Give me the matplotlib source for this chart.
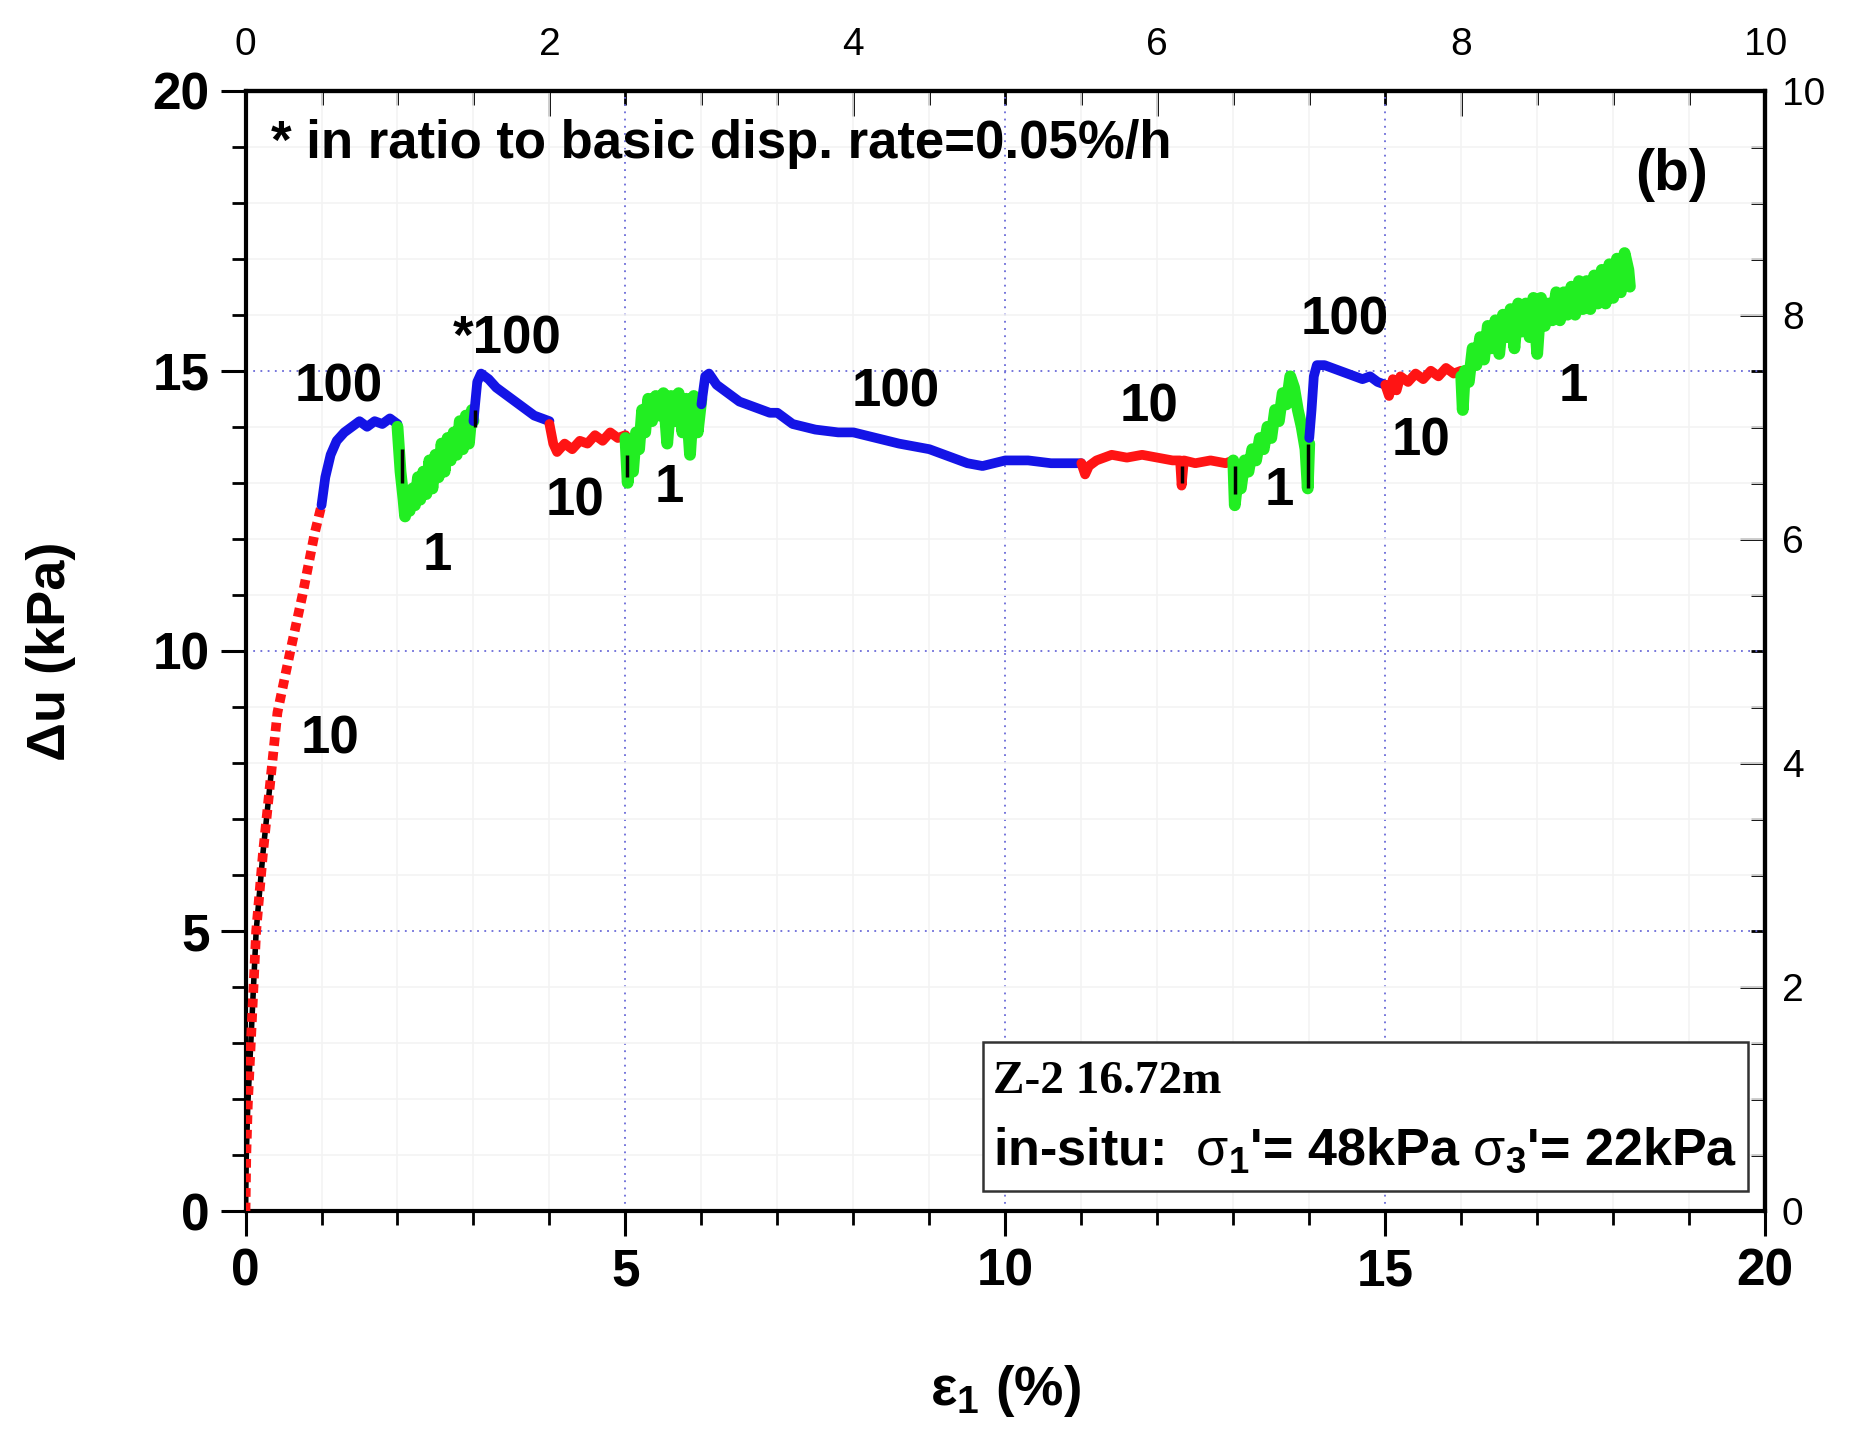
import matplotlib.pyplot as plt
from matplotlib.ticker import MultipleLocator, FixedLocator
from matplotlib.patches import Rectangle

plt.rcParams['font.family'] = ['Liberation Sans', 'DejaVu Sans']
plt.rcParams['mathtext.fontset'] = 'custom'
plt.rcParams['mathtext.rm'] = 'Liberation Sans'
plt.rcParams['mathtext.bf'] = 'Liberation Sans:bold'
plt.rcParams['mathtext.it'] = 'Liberation Sans:italic'

# strain (%) and excess pore pressure (kPa), one stretch per loading rate
red1_x = [0, 0.01, 0.03, 0.08, 0.14, 0.23, 0.34, 0.42, 0.59, 0.75, 0.91, 1.0]
red1_y = [0, 1.0, 1.9, 3.3, 5.0, 6.4, 7.85, 8.9, 10.0, 11.0, 12.1, 12.6]

blue1_x = [1.0, 1.05, 1.12, 1.2, 1.3, 1.4, 1.5, 1.6, 1.7, 1.8, 1.9, 2.0]
blue1_y = [12.6, 13.1, 13.5, 13.75, 13.9, 14.0, 14.1, 14.0, 14.1, 14.05, 14.15, 14.05]

green1_x = [2.0, 2.04, 2.08, 2.1, 2.13, 2.16, 2.2, 2.23, 2.27, 2.3, 2.34, 2.38, 2.42, 2.46, 2.5,
            2.54, 2.58, 2.62, 2.66, 2.7, 2.74, 2.78, 2.82, 2.86, 2.9, 2.94, 2.98, 3.0]
green1_y = [14.0, 13.2, 12.7, 12.4, 12.8, 12.5, 12.9, 12.6, 13.1, 12.7, 13.2, 12.8, 13.4, 12.9, 13.5,
            13.1, 13.7, 13.2, 13.8, 13.4, 13.9, 13.5, 14.1, 13.6, 14.2, 13.7, 14.3, 14.1]

blue2_x = [3.0, 3.05, 3.1, 3.2, 3.3, 3.4, 3.5, 3.6, 3.7, 3.8, 3.9, 4.0]
blue2_y = [14.1, 14.8, 14.95, 14.85, 14.7, 14.6, 14.5, 14.4, 14.3, 14.2, 14.15, 14.1]

red2_x = [4.0, 4.05, 4.1, 4.2, 4.3, 4.4, 4.5, 4.6, 4.7, 4.8, 4.9, 5.0]
red2_y = [14.05, 13.7, 13.55, 13.7, 13.6, 13.75, 13.7, 13.85, 13.75, 13.9, 13.8, 13.85]

green2_x = [5.0, 5.03, 5.06, 5.1, 5.14, 5.18, 5.22, 5.26, 5.3, 5.35, 5.4, 5.45, 5.5, 5.55,
            5.6, 5.65, 5.7, 5.75, 5.8, 5.85, 5.9, 5.95, 6.0]
green2_y = [13.8, 13.0, 13.5, 13.2, 13.9, 13.6, 14.3, 13.9, 14.5, 14.1, 14.55, 14.2, 14.6, 13.7,
            14.55, 14.1, 14.6, 13.9, 14.5, 13.5, 14.55, 13.9, 14.5]

blue3_x = [6.0, 6.05, 6.1, 6.2, 6.35, 6.5, 6.7, 6.9, 7.0, 7.2, 7.5, 7.8, 8.0, 8.3, 8.6,
           9.0, 9.3, 9.5, 9.7, 10.0, 10.3, 10.6, 11.0]
blue3_y = [14.4, 14.9, 14.95, 14.75, 14.6, 14.45, 14.35, 14.25, 14.25, 14.05, 13.95, 13.9, 13.9, 13.8, 13.7,
           13.6, 13.45, 13.35, 13.3, 13.4, 13.4, 13.35, 13.35]

red3_x = [11.0, 11.05, 11.1, 11.2, 11.4, 11.6, 11.8, 12.0, 12.2, 12.3, 12.32, 12.35, 12.5, 12.7, 12.9, 13.0]
red3_y = [13.35, 13.15, 13.3, 13.4, 13.5, 13.45, 13.5, 13.45, 13.4, 13.4, 12.95, 13.4, 13.35, 13.4, 13.35, 13.4]

green3_x = [13.0, 13.02, 13.06, 13.1, 13.15, 13.2, 13.25, 13.3, 13.35, 13.4, 13.45, 13.5, 13.55,
            13.6, 13.65, 13.7, 13.75, 13.8, 13.85, 13.9, 13.95, 13.98, 14.0]
green3_y = [13.4, 12.6, 13.1, 12.9, 13.4, 13.2, 13.6, 13.4, 13.8, 13.6, 14.0, 13.8, 14.3,
            14.1, 14.6, 14.4, 14.9, 14.7, 14.3, 14.0, 13.6, 12.9, 13.7]

blue4_x = [14.0, 14.03, 14.06, 14.1, 14.2, 14.3, 14.4, 14.5, 14.6, 14.7, 14.8, 14.9, 15.0]
blue4_y = [13.8, 14.3, 14.9, 15.1, 15.1, 15.05, 15.0, 14.95, 14.9, 14.85, 14.9, 14.8, 14.75]

red4_x = [15.0, 15.05, 15.1, 15.15, 15.2, 15.3, 15.4, 15.5, 15.6, 15.7, 15.8, 15.9, 16.0]
red4_y = [14.75, 14.55, 14.85, 14.65, 14.9, 14.8, 14.95, 14.85, 15.0, 14.9, 15.05, 14.95, 15.0]

green4_x = [16.0, 16.02, 16.05, 16.1, 16.15, 16.2, 16.25, 16.3, 16.35, 16.4, 16.45, 16.5, 16.55,
            16.6, 16.65, 16.7, 16.75, 16.8, 16.85, 16.9, 16.95, 17.0, 17.05, 17.1, 17.15, 17.2,
            17.25, 17.3, 17.35, 17.4, 17.45, 17.5, 17.55, 17.6, 17.65, 17.7, 17.75, 17.8, 17.85,
            17.9, 17.95, 18.0, 18.05, 18.1, 18.15, 18.2, 18.22]
green4_y = [14.9, 14.3, 15.0, 14.8, 15.4, 15.1, 15.6, 15.2, 15.8, 15.4, 15.9, 15.3, 16.0,
            15.6, 16.1, 15.4, 16.2, 15.7, 16.2, 15.6, 16.3, 15.3, 16.3, 15.8, 16.2, 15.9,
            16.4, 15.9, 16.4, 16.0, 16.5, 16.0, 16.6, 16.1, 16.6, 16.1, 16.7, 16.2, 16.8,
            16.2, 16.9, 16.3, 17.0, 16.4, 17.1, 16.8, 16.5]

# short black marks where the logger line shows through
black_x = [2.06, 3.02, 5.02, 12.32, 13.02, 13.98]
black_lo = [13.0, 14.0, 13.1, 13.0, 12.8, 12.9]
black_hi = [13.6, 14.3, 13.5, 13.3, 13.3, 13.7]

rate_labels = [("100", 1.23, 14.7), ("*100", 3.45, 15.55), ("1", 2.52, 11.7), ("10", 4.34, 12.66),
               ("1", 5.58, 12.9), ("100", 8.56, 14.62), ("10", 11.89, 14.35), ("1", 13.6, 12.85),
               ("100", 14.47, 15.9), ("10", 15.47, 13.74), ("1", 17.47, 14.71), ("10", 1.11, 8.42)]

top_ticks = [0, 2, 4, 6, 8, 10]
right_ticks = [0, 2, 4, 6, 8, 10]

BLUE = "#1414e6"
RED = "#ff1414"
GREEN = "#22ee22"

fig = plt.figure(figsize=(18.6, 14.37), dpi=100)
ax = fig.add_axes([0.132, 0.157, 0.817, 0.780])

ax.set_xlim(0, 20)
ax.set_ylim(0, 20)

# grid
ax.xaxis.set_major_locator(MultipleLocator(5))
ax.xaxis.set_minor_locator(MultipleLocator(1))
ax.yaxis.set_major_locator(MultipleLocator(5))
ax.yaxis.set_minor_locator(MultipleLocator(1))
ax.grid(which='minor', color='#f3f3f3', lw=1.2)
ax.grid(which='major', color='#6a6ad8', lw=1.3, ls=(0, (1, 3)))
ax.set_axisbelow(True)

# early steep part: black line with red dots on top
ax.plot(red1_x[:7], red1_y[:7], color='black', lw=4, zorder=3)
ax.plot(red1_x, red1_y, color=RED, lw=7, ls=(0, (0.9, 0.6)), zorder=4)

segments = [(blue1_x, blue1_y, BLUE), (green1_x, green1_y, GREEN),
            (blue2_x, blue2_y, BLUE), (red2_x, red2_y, RED),
            (green2_x, green2_y, GREEN), (blue3_x, blue3_y, BLUE),
            (red3_x, red3_y, RED), (green3_x, green3_y, GREEN),
            (blue4_x, blue4_y, BLUE), (red4_x, red4_y, RED),
            (green4_x, green4_y, GREEN)]
for sx, sy, c in segments:
    w = 8.5 if c == GREEN else 7
    ax.plot(sx, sy, color=c, lw=w, solid_joinstyle='round', solid_capstyle='round', zorder=4)

ax.vlines(black_x, black_lo, black_hi, color='black', lw=2.5, zorder=5)

for txt, tx, ty in rate_labels:
    ax.text(tx, ty, txt, fontsize=38, fontweight='bold', ha='center', va='center', zorder=6)

ax.text(0.33, 19.05, "* in ratio to basic disp. rate=0.05%/h", fontsize=38, fontweight='bold',
        ha='left', va='center')
ax.text(18.77, 18.5, "(b)", fontsize=41, fontweight='bold', ha='center', va='center')

# info box
ax.add_patch(Rectangle((0.485, 0.018), 0.5035, 0.133, transform=ax.transAxes,
                       fill=True, facecolor='white', edgecolor='#333333', lw=1.8, zorder=6))
ax.text(0.492, 0.115, "Z-2 16.72m", transform=ax.transAxes, fontsize=34, fontweight='bold',
        family=['Liberation Serif', 'DejaVu Serif'], ha='left', va='center', zorder=7)
ax.text(0.492, 0.054, r"in-situ:  $\mathrm{\sigma}_\mathbf{1}$'= 48kPa $\mathrm{\sigma}_\mathbf{3}$'= 22kPa",
        transform=ax.transAxes, fontsize=37.5, fontweight='bold', ha='left', va='center', zorder=7)

# main axes styling
for sp in ax.spines.values():
    sp.set_linewidth(3)
ax.tick_params(which='major', direction='out', length=18, width=2.2, labelsize=37, pad=8)
ax.tick_params(which='minor', direction='out', length=10, width=2)
for lab in ax.get_xticklabels() + ax.get_yticklabels():
    lab.set_fontweight('bold')

ax.set_xlabel(r"$\mathbf{\varepsilon_1}$ (%)", fontsize=40, fontweight='bold', labelpad=48)
ax.set_ylabel("Δu (kPa)", fontsize=39, fontweight='bold', labelpad=55)

# secondary scales 0-10
top = ax.secondary_xaxis('top', functions=(lambda v: v / 2, lambda v: v * 2))
top.xaxis.set_major_locator(FixedLocator(top_ticks))
top.xaxis.set_minor_locator(MultipleLocator(0.5))
top.tick_params(which='major', direction='in', length=18, width=2, labelsize=28, pad=20)
top.tick_params(which='minor', direction='in', length=10, width=2)
top.spines['top'].set_linewidth(3)

right = ax.secondary_yaxis('right', functions=(lambda v: v / 2, lambda v: v * 2))
right.yaxis.set_major_locator(FixedLocator(right_ticks))
right.yaxis.set_minor_locator(MultipleLocator(0.5))
right.tick_params(which='major', direction='in', length=18, width=2, labelsize=28, pad=12)
right.tick_params(which='minor', direction='in', length=10, width=2)
right.spines['right'].set_linewidth(3)

fig.savefig("out.png", dpi=100, facecolor='white')
